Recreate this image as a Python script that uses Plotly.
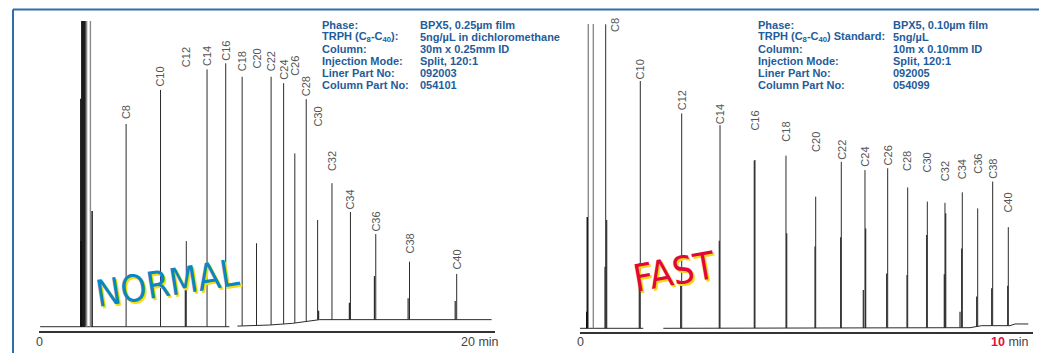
import numpy as np
import plotly.graph_objects as go

# page body has an 8px margin; the figure is sized and shifted to compensate
OX, OY = 8, 8
W, H = 1047 - OX, 353 - OY

# ---------------- data: left chromatogram (NORMAL, 30m column) ----------------
left_names = ["C8", "C10", "C12", "C14", "C16", "C18", "C20", "C22", "C24",
              "C26", "C28", "C30", "C32", "C34", "C36", "C38", "C40"]
left_times = [3.82, 5.33, 6.46, 7.37, 8.19, 8.91, 9.54, 10.18, 10.73,
              11.22, 11.72, 12.22, 12.85, 13.66, 14.77, 16.25, 18.32]
left_heights = [66.1, 77.2, 27.9, 83.9, 85.9, 81.5, 27.2, 81.5, 79.4,
                56.5, 74.2, 34.8, 46.8, 37.4, 30.2, 21.2, 17.2]
left_label_h = [67.4, 77.8, 84.4, 84.7, 86.3, 83.0, 83.7, 83.0, 80.1,
                81.4, 74.9, 64.8, 50.4, 38.0, 30.6, 23.4, 18.2]
left_solvent_t = [1.833, 1.84, 1.86, 1.877, 1.921, 1.965, 2.009, 2.330]
left_solvent_h = [74.3, 27.9, 27.9, 99.7, 99.7, 99.7, 99.7, 37.7]
left_solvent_grey_t = [2.044, 2.088, 2.255]
left_solvent_grey_h = [99.7, 99.7, 99.7]
left_minor_t = [6.418, 12.264, 13.613, 14.712, 16.19, 18.255]
left_minor_h = [12.0, 5.2, 7.8, 16.5, 9.3, 8.4]
left_base_seg1_t = [0.05, 8.35]
left_base_seg1_y = [0.0, 0.0]
left_base_seg2_t = [8.70, 10.11, 11.12, 11.87, 12.31, 19.85]
left_base_seg2_y = [0.2, 0.55, 1.1, 1.96, 2.3, 2.3]

# ---------------- data: right chromatogram (FAST, 10m column) ----------------
right_names = left_names
right_times = [0.567, 1.331, 2.245, 3.091, 3.863, 4.547, 5.203, 5.768, 6.291,
               6.792, 7.234, 7.667, 8.057, 8.439, 8.779, 9.110, 9.455]
right_heights = [98.6, 80.2, 69.7, 65.9, 54.6, 56.0, 42.7, 54.0, 51.3,
                 51.9, 45.7, 41.1, 40.7, 44.1, 38.9, 47.6, 32.8]
right_label_h = [95.7, 80.5, 70.3, 65.9, 63.8, 60.2, 56.8, 54.4, 52.1,
                 52.4, 50.6, 50.3, 47.4, 48.1, 49.7, 48.1, 37.3]
right_solvent_t = [0.148, 0.160]
right_solvent_h = [5.4, 36.1]
right_solvent_grey_t = [0.183, 0.294]
right_solvent_grey_h = [98.7, 98.7]
right_minor_t = [0.552, 0.589, 1.309, 2.223, 3.075, 3.848, 4.563, 5.188, 5.755,
                 6.254, 6.306, 6.770, 7.219, 7.653, 8.042, 8.073, 8.389, 8.426,
                 8.757, 9.088, 9.442]
right_minor_h = [20.0, 35.1, 21.0, 15.1, 28.4, 54.4, 30.8, 26.5, 29.5,
                 12.4, 32.4, 17.8, 17.3, 30.3, 17.5, 37.3, 5.4, 25.9,
                 10.3, 13.0, 13.8]
right_base_seg1_t = [0.0, 1.397]
right_base_seg1_y = [0.0, 0.0]
right_base_seg2_t = [1.839, 8.609, 8.868, 9.492, 9.603, 9.896]
right_base_seg2_y = [0.0, 0.2, 0.85, 0.85, 1.4, 1.4]

# ---------------- info texts ----------------
info_keys_left = ["Phase:", "TRPH (C<sub>8</sub>-C<sub>40</sub>):", "Column:",
                  "Injection Mode:", "Liner Part No:", "Column Part No:"]
info_vals_left = ["BPX5, 0.25µm film", "5ng/µL in dichloromethane", "30m x 0.25mm ID",
                  "Split, 120:1", "092003", "054101"]
info_keys_right = ["Phase:", "TRPH (C<sub>8</sub>-C<sub>40</sub>) Standard:", "Column:",
                   "Injection Mode:", "Liner Part No:", "Column Part No:"]
info_vals_right = ["BPX5, 0.10µm film", "5ng/µL", "10m x 0.10mm ID",
                   "Split, 120:1", "092005", "054099"]

# ---------------- helpers ----------------
def px_x(p):
    return (p - OX) / W

def px_y(p):
    return (H - (p - OY)) / H

def baseline_at(t, segs):
    all_t, all_y = [], []
    for st, sy in segs:
        all_t += st
        all_y += sy
    return float(np.interp(t, all_t, all_y))

def spikes(times, heights, segs):
    xs, ys = [], []
    for t, h in zip(times, heights):
        b = baseline_at(t, segs)
        xs += [t, t, None]
        ys += [b, h, None]
    return xs, ys

PEAK = "#2b2b2b"
GREY = "#8a8a8a"
LABEL_FONT = dict(family="Liberation Sans, Arial, sans-serif", size=11, color="#555555")
INFO_FONT = dict(family="Liberation Sans, Arial, sans-serif", size=11, color="#1f5c9a", weight="bold")

fig = go.Figure()

def add_chrom(xa, times, heights, solv_t, solv_h, grey_t, grey_h, minor_t, minor_h, segs):
    xref = "x" if xa == 1 else "x2"
    yref = "y" if xa == 1 else "y2"
    bx, by = [], []
    for st, sy in segs:
        bx += st + [None]
        by += sy + [None]
    fig.add_trace(go.Scatter(x=bx, y=by, mode="lines", line=dict(color=PEAK, width=1),
                             xaxis=xref, yaxis=yref, hoverinfo="skip", showlegend=False))
    if grey_t:
        gx, gy = spikes(grey_t, grey_h, segs)
        fig.add_trace(go.Scatter(x=gx, y=gy, mode="lines", line=dict(color=GREY, width=1.4),
                                 xaxis=xref, yaxis=yref, hoverinfo="skip", showlegend=False))
    sx, sy = spikes(solv_t, solv_h, segs)
    fig.add_trace(go.Scatter(x=sx, y=sy, mode="lines", line=dict(color="#111111", width=1.4),
                             xaxis=xref, yaxis=yref, hoverinfo="skip", showlegend=False))
    mx, my = spikes(minor_t, minor_h, segs)
    fig.add_trace(go.Scatter(x=mx, y=my, mode="lines", line=dict(color=PEAK, width=1.2),
                             xaxis=xref, yaxis=yref, hoverinfo="skip", showlegend=False))
    px_, py_ = spikes(times, heights, segs)
    fig.add_trace(go.Scatter(x=px_, y=py_, mode="lines", line=dict(color=PEAK, width=1),
                             xaxis=xref, yaxis=yref, hoverinfo="skip", showlegend=False))

add_chrom(1, left_times, left_heights, left_solvent_t, left_solvent_h,
          left_solvent_grey_t, left_solvent_grey_h, left_minor_t, left_minor_h,
          [(left_base_seg1_t, left_base_seg1_y), (left_base_seg2_t, left_base_seg2_y)])
add_chrom(2, right_times, right_heights, right_solvent_t, right_solvent_h,
          right_solvent_grey_t, right_solvent_grey_h, right_minor_t, right_minor_h,
          [(right_base_seg1_t, right_base_seg1_y), (right_base_seg2_t, right_base_seg2_y)])

ann = []
for n, t, lh in zip(left_names, left_times, left_label_h):
    ann.append(dict(x=t, y=lh, xref="x", yref="y", text=n, showarrow=False, textangle=-90,
                    xanchor="center", yanchor="bottom", font=LABEL_FONT, borderpad=0))
for i, (n, t, lh) in enumerate(zip(right_names, right_times, right_label_h)):
    ann.append(dict(x=t, y=lh, xref="x2", yref="y2", text=n, showarrow=False, textangle=-90,
                    xanchor="center", yanchor="bottom", font=LABEL_FONT, borderpad=0,
                    xshift=10 if i == 0 else 0))

row_y = [25, 37, 49, 61, 73, 85]
for k, v, yy in zip(info_keys_left, info_vals_left, row_y):
    ann.append(dict(x=px_x(320), y=px_y(yy), xref="paper", yref="paper", text=k, showarrow=False,
                    xanchor="left", yanchor="middle", font=INFO_FONT))
    ann.append(dict(x=px_x(418), y=px_y(yy), xref="paper", yref="paper", text=v, showarrow=False,
                    xanchor="left", yanchor="middle", font=INFO_FONT))
for k, v, yy in zip(info_keys_right, info_vals_right, row_y):
    ann.append(dict(x=px_x(756), y=px_y(yy), xref="paper", yref="paper", text=k, showarrow=False,
                    xanchor="left", yanchor="middle", font=INFO_FONT))
    ann.append(dict(x=px_x(891), y=px_y(yy), xref="paper", yref="paper", text=v, showarrow=False,
                    xanchor="left", yanchor="middle", font=INFO_FONT))

AXF = dict(family="Liberation Sans, Arial, sans-serif", size=12.5, color="#444444")
ann.append(dict(x=0, y=px_y(342), xref="x", yref="paper", text="0", showarrow=False,
                xanchor="center", yanchor="middle", font=AXF))
ann.append(dict(x=px_x(501), y=px_y(342), xref="paper", yref="paper", text="20 min", showarrow=False,
                xanchor="right", yanchor="middle", font=AXF))
ann.append(dict(x=0, y=px_y(342), xref="x2", yref="paper", text="0", showarrow=False,
                xanchor="center", yanchor="middle", font=AXF))
ann.append(dict(x=px_x(1031), y=px_y(342), xref="paper", yref="paper",
                text="<b><span style='color:#e2103c'>10</span></b> min", showarrow=False,
                xanchor="right", yanchor="middle", font=AXF))

# stamps
STAMP = "DejaVu Sans Condensed, DejaVu Sans, sans-serif"
for txt, cx, cy, col, size, ang in [("NORMAL", 167, 283, "#0a86c6", 37, -9),
                                    ("FAST", 674, 272, "#e2063a", 38, -10)]:
    ann.append(dict(x=px_x(cx), y=px_y(cy), xref="paper", yref="paper", text=txt, showarrow=False,
                    xanchor="center", yanchor="middle", textangle=ang, xshift=2, yshift=-2,
                    font=dict(family=STAMP, size=size, color="#f6dc12")))
    ann.append(dict(x=px_x(cx), y=px_y(cy), xref="paper", yref="paper", text=txt, showarrow=False,
                    xanchor="center", yanchor="middle", textangle=ang,
                    font=dict(family=STAMP, size=size, color=col)))

BORDER = "#2f6ea8"
shapes = [
    dict(type="line", xref="paper", yref="paper", x0=px_x(13), x1=1.0, y0=px_y(9.5), y1=px_y(9.5),
         line=dict(color=BORDER, width=2)),
    dict(type="line", xref="paper", yref="paper", x0=px_x(13), x1=px_x(13), y0=px_y(9.5), y1=0,
         line=dict(color=BORDER, width=2)),
]

axis_common = dict(showgrid=False, zeroline=False, showticklabels=False, ticks="",
                   showline=True, linecolor="#333333", linewidth=1.5)
fig.update_layout(
    width=W, height=H, margin=dict(l=0, r=0, t=0, b=0),
    paper_bgcolor="white", plot_bgcolor="white",
    xaxis=dict(domain=[px_x(39), px_x(495)], range=[0, 20], **axis_common),
    yaxis=dict(domain=[px_y(331), px_y(20)], range=[-1.4, 100], visible=False),
    xaxis2=dict(domain=[px_x(580), px_x(1033)], range=[0, 10], anchor="y2", **axis_common),
    yaxis2=dict(domain=[px_y(332), px_y(20)], range=[-1.2, 100], anchor="x2", visible=False),
    annotations=ann, shapes=shapes, showlegend=False,
)
fig.write_html("out.html")
